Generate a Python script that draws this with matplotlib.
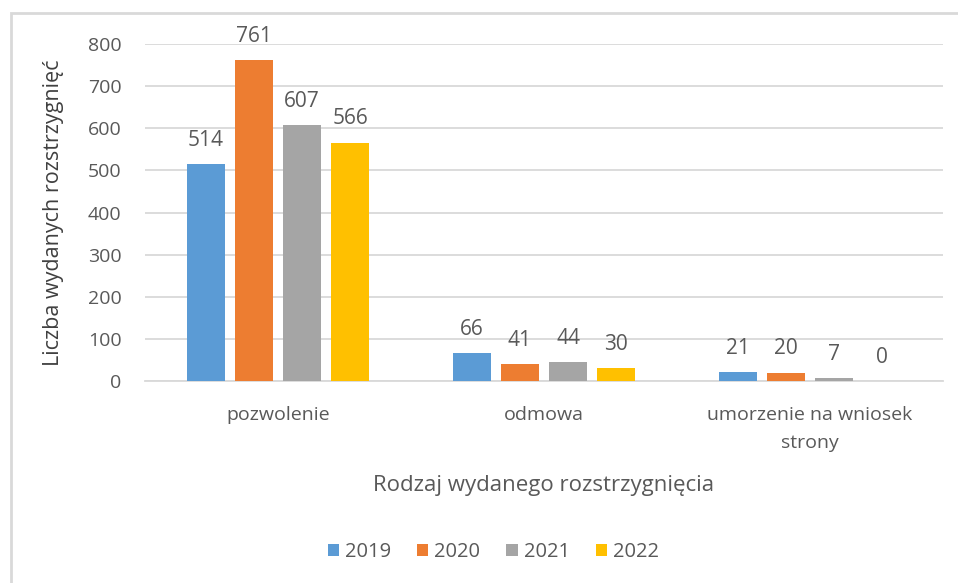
import matplotlib.pyplot as plt
from matplotlib.patches import Rectangle
import numpy as np

kategorie = ['pozwolenie', 'odmowa', 'umorzenie na wniosek\nstrony']
lata = ['2019', '2020', '2021', '2022']
wartosci = {
    '2019': [514, 66, 21],
    '2020': [761, 41, 20],
    '2021': [607, 44, 7],
    '2022': [566, 30, 0],
}
kolory = ['#5B9BD5', '#ED7D31', '#A5A5A5', '#FFC000']

plt.rcParams['font.family'] = ['Open Sans', 'DejaVu Sans']
szary = '#595959'

fig = plt.figure(figsize=(9.58, 5.83), dpi=100)
ax = fig.add_axes([0.1514, 0.3465, 0.8330, 0.578])

x = np.arange(len(kategorie))
krok = 0.181
szer = 0.1425
for i, rok in enumerate(lata):
    poz = x + (i - 1.5) * krok
    slupki = ax.bar(poz, wartosci[rok], width=szer, color=kolory[i], label=rok, zorder=3)
    for s, v in zip(slupki, wartosci[rok]):
        ax.annotate(str(v), (s.get_x() + s.get_width() / 2, v),
                    xytext=(0, 9.5), textcoords='offset points',
                    ha='center', va='bottom', fontsize=15, color=szary)

ax.set_xlim(-0.5, 2.5)
ax.set_ylim(0, 800)
ax.set_yticks(range(0, 801, 100))
ax.yaxis.grid(True, color='#d9d9d9', linewidth=1.3, zorder=0)
ax.set_axisbelow(True)
for sp in ['top', 'right', 'left']:
    ax.spines[sp].set_visible(False)
ax.spines['bottom'].set_color('#d9d9d9')
ax.spines['bottom'].set_linewidth(1.3)
ax.tick_params(length=0, colors=szary, labelsize=14)
ax.tick_params(axis='y', pad=17)
ax.tick_params(axis='x', pad=18)
ax.set_xticks(x)
ax.set_xticklabels(kategorie, fontsize=14, linespacing=1.75)

ax.set_xlabel('Rodzaj wydanego rozstrzygnięcia', fontsize=16, color=szary, labelpad=16)
ax.set_ylabel('Liczba wydanych rozstrzygnięć', fontsize=15.5, color='#404040', labelpad=17)

fig.legend(loc='center', bbox_to_anchor=(0.515, 0.053), ncol=4, frameon=False,
           fontsize=14.5, labelcolor=szary, handlelength=0.55, handleheight=0.55,
           handletextpad=0.3, columnspacing=1.3)

# cienka ramka wokół wykresu
fig.patches.append(Rectangle((11 / 958, -0.1), 1.2, 1 - 13 / 583 + 0.1,
                             transform=fig.transFigure, fill=False,
                             edgecolor='#d9d9d9', linewidth=2))

fig.savefig('out.png', dpi=100)
